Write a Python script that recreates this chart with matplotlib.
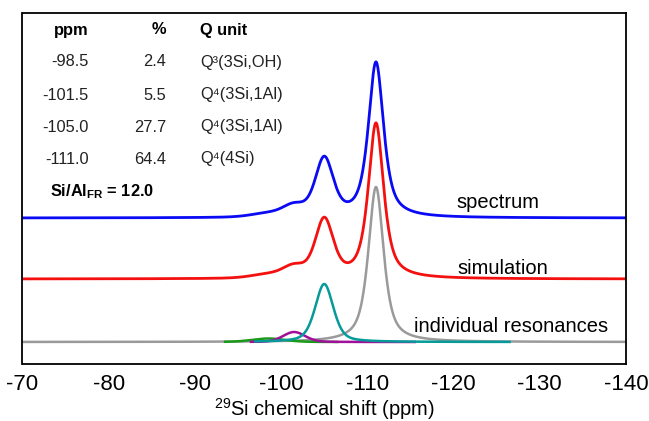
import numpy as np
import matplotlib.pyplot as plt

plt.rcParams.update({
    "font.family": ["Liberation Sans", "DejaVu Sans"],
    "mathtext.fontset": "custom",
    "mathtext.rm": "Liberation Sans",
    "mathtext.bf": "Liberation Sans:bold",
    "mathtext.it": "Liberation Sans:italic",
    "axes.unicode_minus": False,
})

# fitted resonances (ppm, area %, assignment)
ppm = [-98.5, -101.5, -105.0, -111.0]
percent = [2.4, 5.5, 27.7, 64.4]
q_unit = ["Q³(3Si,OH)", "Q⁴(3Si,1Al)", "Q⁴(3Si,1Al)", "Q⁴(4Si)"]
si_al = 12.0

# line shape parameters for each resonance
heights = [3.5, 10.0, 58.0, 155.0]
fwhm = [4.5, 3.0, 2.5, 2.1]
lorentz_frac = [0.2, 0.2, 0.45, 0.72]
spans = [(-93.5, -106.5), (-96.5, -115.5), (-97.0, -126.5), (-70.0, -140.0)]
colors = ["#1a9a1a", "#a0109a", "#069a9a", "#9a9a9a"]

# vertical stacking of the three traces
offsets = {"spectrum": 124.0, "simulation": 63.0, "individual": 0.0}


def pseudo_voigt(x, x0, h, w, eta):
    g = np.exp(-4 * np.log(2) * ((x - x0) / w) ** 2)
    l = 1.0 / (1.0 + 4 * ((x - x0) / w) ** 2)
    return h * (eta * l + (1 - eta) * g)


x = np.linspace(-70, -140, 2801)
parts = [pseudo_voigt(x, c, h, w, e) for c, h, w, e in zip(ppm, heights, fwhm, lorentz_frac)]
total = np.sum(parts, axis=0)

fig = plt.figure(figsize=(6.49, 4.21), dpi=100)
ax = fig.add_axes([22.5 / 649, 57 / 421, 603.5 / 649, 351.5 / 421])

ax.plot(x, total + offsets["spectrum"], color="#0a0af5", lw=2.0)
ax.plot(x, total + offsets["simulation"], color="#f51010", lw=2.0)

order = [3, 0, 1, 2]
for i in order:
    lo, hi = spans[i]
    m = (x <= lo) & (x >= hi)
    ax.plot(x[m], parts[i][m] + offsets["individual"], color=colors[i], lw=1.8)

ax.set_xlim(-70, -140)
ax.set_ylim(-22, 329.5)
ax.set_yticks([])
ax.set_xticks(np.arange(-70, -141, -10))
ax.tick_params(axis="x", length=0, pad=7, labelsize=16)
for s in ax.spines.values():
    s.set_linewidth(1.3)
ax.set_xlabel(r"$^{29}$Si chemical shift (ppm)", fontsize=14.5, labelpad=1)

# table of fit results
fs = 11.8
y_head = 312
ax.text(-77.7, y_head, "ppm", ha="right", va="center", fontsize=fs, fontweight="bold")
ax.text(-86.7, y_head, "%", ha="right", va="center", fontsize=fs, fontweight="bold")
ax.text(-90.6, y_head, "Q unit", ha="left", va="center", fontsize=fs, fontweight="bold")
row_y = [280, 247, 215, 183]
for p, pc, q, yy in zip(ppm, percent, q_unit, row_y):
    ax.text(-77.7, yy, f"{p:.1f}", ha="right", va="center", fontsize=fs, color="#222222")
    ax.text(-86.7, yy, f"{pc:.1f}", ha="right", va="center", fontsize=fs, color="#222222")
    ax.text(-90.6, yy, q, ha="left", va="center", fontsize=fs, color="#222222")
ax.text(-73.2, 150, r"Si/Al$_{\mathbf{FR}}$ = " + f"{si_al:.1f}", ha="left", va="center",
        fontsize=fs, fontweight="bold")

ax.text(-120.3, 139, "spectrum", ha="left", va="center", fontsize=14.5)
ax.text(-120.5, 74, "simulation", ha="left", va="center", fontsize=14.5)
ax.text(-115.4, 16, "individual resonances", ha="left", va="center", fontsize=14.5)

fig.savefig("out.png", dpi=100)
